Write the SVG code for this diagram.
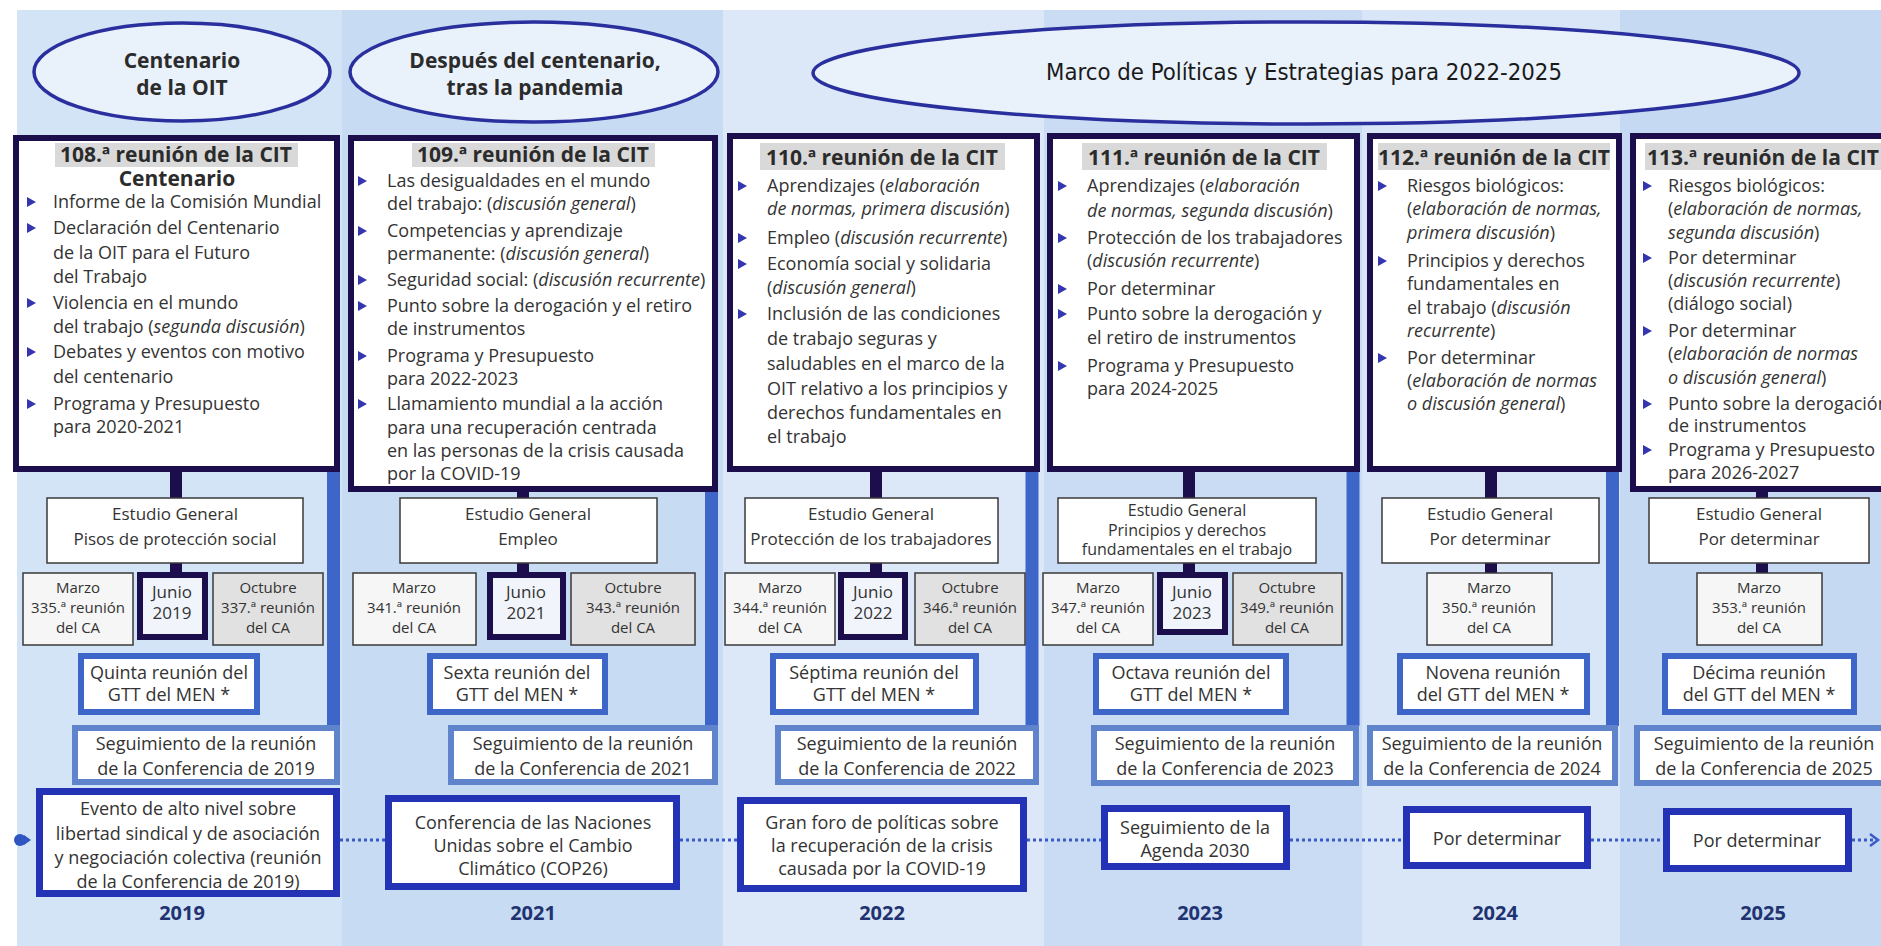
<svg xmlns="http://www.w3.org/2000/svg" xmlns:xlink="http://www.w3.org/1999/xlink" width="1881" height="946" viewBox="0 0 1881 946">
<style>
text{font-family:'Open Sans','Noto Sans','DejaVu Sans',sans-serif;fill:#333;font-size:18px}
.i{font-style:italic}
.c{text-anchor:middle}
.ttl{font-weight:700;font-size:21px;text-anchor:middle;fill:#2b2b2b}
.ell{font-weight:700;font-size:21px;text-anchor:middle;fill:#2b2b2b}
.sm{font-size:15px}
.md{font-size:17px}
.s16{font-size:16px}
.yr{font-weight:700;font-size:20px;fill:#1f3370;text-anchor:middle}
.cit{fill:#fff;stroke:#1c0e4c;stroke-width:6}
.hl{fill:#d9d9d9}
.thin{fill:#fff;stroke:#3a3a3a;stroke-width:1.5}
.mar{fill:#f6f6f6;stroke:#3a3a3a;stroke-width:1.5}
.oct{fill:#e1e1e1;stroke:#3a3a3a;stroke-width:1.5}
.jun{fill:#f1f5fb;stroke:#1c0e4c;stroke-width:6}
.gtt{fill:#fff;stroke:#3d66c8;stroke-width:6}
.seg{fill:#fff;stroke:#6084cc;stroke-width:6}
.ev{fill:#fff;stroke:#2433b5;stroke-width:7}
.elp{fill:#e9f1fb;stroke:#2a2f9e;stroke-width:3.5}
.vc{stroke:#1c0e4c;stroke-width:12}
.bar{stroke:#3d66c8;stroke-width:13}
.dot{stroke:#3a5bc7;stroke-width:3;stroke-dasharray:3 3;fill:none}
</style>
<defs>
<polygon id="bul" points="0,-5 9,0 0,5" fill="#3535b0"/>
</defs>
<rect width="1881" height="946" fill="#fff"/>
<g id="columns">
<rect x="17" y="10" width="325" height="936" fill="#d3e4f7"/>
<rect x="342" y="10" width="381" height="936" fill="#c7dbf3"/>
<rect x="723" y="10" width="321" height="936" fill="#dce8f8"/>
<rect x="1044" y="10" width="318" height="936" fill="#c9dcf4"/>
<rect x="1362" y="10" width="258" height="936" fill="#d8e6f7"/>
<rect x="1620" y="10" width="261" height="936" fill="#c5d9f2"/>
</g>
<g id="periods">
<g id="p-centenario">
<ellipse class="elp" cx="182" cy="72" rx="148" ry="49"/>
<text class="ell" x="182" y="68">Centenario</text>
<text class="ell" x="182" y="95">de la OIT</text>
</g>
<g id="p-despues">
<ellipse class="elp" cx="534" cy="72" rx="184" ry="50"/>
<text class="ell" x="535" y="68">Después del centenario,</text>
<text class="ell" x="535" y="95">tras la pandemia</text>
</g>
<g id="p-marco">
<ellipse class="elp" cx="1306" cy="73" rx="493" ry="51"/>
<text x="1304" y="80" class="c" style="font-family:'Liberation Sans Narrow','DejaVu Sans Condensed','Open Sans',sans-serif;font-size:23px;fill:#1a1a1a" textLength="516" lengthAdjust="spacingAndGlyphs">Marco de Políticas y Estrategias para 2022-2025</text>
</g>
</g>
<g id="connectors">
<line class="vc" x1="176" y1="470" x2="176" y2="500"/><line class="vc" x1="176" y1="561" x2="176" y2="575"/>
<line class="vc" x1="523" y1="490" x2="523" y2="500"/><line class="vc" x1="523" y1="561" x2="523" y2="575"/>
<line class="vc" x1="876" y1="470" x2="876" y2="500"/><line class="vc" x1="876" y1="561" x2="876" y2="575"/>
<line class="vc" x1="1189" y1="470" x2="1189" y2="500"/><line class="vc" x1="1189" y1="561" x2="1189" y2="575"/>
<line class="vc" x1="1491" y1="470" x2="1491" y2="500"/><line class="vc" x1="1491" y1="561" x2="1491" y2="575"/>
<line class="vc" x1="1762" y1="490" x2="1762" y2="500"/><line class="vc" x1="1762" y1="561" x2="1762" y2="575"/>
<line class="bar" x1="333.5" y1="472" x2="333.5" y2="726"/>
<line class="bar" x1="711.5" y1="492" x2="711.5" y2="726"/>
<line class="bar" x1="1032" y1="472" x2="1032" y2="726"/>
<line class="bar" x1="1353" y1="472" x2="1353" y2="726"/>
<line class="bar" x1="1612.5" y1="472" x2="1612.5" y2="726"/>
<circle cx="20" cy="840" r="6" fill="#2f55c2"/>
<polygon points="24,835 31,840 24,845" fill="#2f55c2"/>
<line class="dot" x1="340" y1="840" x2="385" y2="840"/>
<line class="dot" x1="680" y1="840" x2="737" y2="840"/>
<line class="dot" x1="1027" y1="840" x2="1101" y2="840"/>
<line class="dot" x1="1290" y1="840" x2="1403" y2="840"/>
<line class="dot" x1="1591" y1="840" x2="1663" y2="840"/>
<line class="dot" x1="1852" y1="840" x2="1876" y2="840"/>
<polyline points="1870,834 1878,840 1870,846" fill="none" stroke="#3a5bc7" stroke-width="2.5"/>
</g>
<g id="cit108">
<rect class="cit" x="16" y="138" width="321" height="331"/>
<rect class="hl" x="55" y="143" width="243" height="24"/>
<text class="ttl" x="176" y="162">108.ª reunión de la CIT</text>
<text class="ttl" x="177" y="186">Centenario</text>
<use href="#bul" x="27" y="202"/><text x="53" y="208">Informe de la Comisión Mundial</text>
<use href="#bul" x="27" y="228"/><text x="53" y="234">Declaración del Centenario</text>
<text x="53" y="259">de la OIT para el Futuro</text>
<text x="53" y="283">del Trabajo</text>
<use href="#bul" x="27" y="303"/><text x="53" y="309">Violencia en el mundo</text>
<text x="53" y="333">del trabajo (<tspan class="i">segunda discusión</tspan>)</text>
<use href="#bul" x="27" y="352"/><text x="53" y="358">Debates y eventos con motivo</text>
<text x="53" y="383">del centenario</text>
<use href="#bul" x="27" y="404"/><text x="53" y="410">Programa y Presupuesto</text>
<text x="53" y="433">para 2020-2021</text>
</g>
<g id="cit109">
<rect class="cit" x="351" y="138" width="364" height="351"/>
<rect class="hl" x="412" y="143" width="243" height="24"/>
<text class="ttl" x="533" y="162">109.ª reunión de la CIT</text>
<use href="#bul" x="358" y="181"/><text x="387" y="187">Las desigualdades en el mundo</text>
<text x="387" y="210">del trabajo: (<tspan class="i">discusión general</tspan>)</text>
<use href="#bul" x="358" y="231"/><text x="387" y="237">Competencias y aprendizaje</text>
<text x="387" y="260">permanente: (<tspan class="i">discusión general</tspan>)</text>
<use href="#bul" x="358" y="280"/><text x="387" y="286">Seguridad social: (<tspan class="i">discusión recurrente</tspan>)</text>
<use href="#bul" x="358" y="306"/><text x="387" y="312">Punto sobre la derogación y el retiro</text>
<text x="387" y="335">de instrumentos</text>
<use href="#bul" x="358" y="356"/><text x="387" y="362">Programa y Presupuesto</text>
<text x="387" y="385">para 2022-2023</text>
<use href="#bul" x="358" y="404"/><text x="387" y="410">Llamamiento mundial a la acción</text>
<text x="387" y="434">para una recuperación centrada</text>
<text x="387" y="457">en las personas de la crisis causada</text>
<text x="387" y="480">por la COVID-19</text>
</g>
<g id="cit110">
<rect class="cit" x="730" y="136" width="307" height="333"/>
<rect class="hl" x="760" y="143" width="245" height="27"/>
<text class="ttl" x="882" y="165">110.ª reunión de la CIT</text>
<use href="#bul" x="738" y="186"/><text x="767" y="192">Aprendizajes (<tspan class="i">elaboración</tspan></text>
<text x="767" y="215"><tspan class="i">de normas, primera discusión</tspan>)</text>
<use href="#bul" x="738" y="238"/><text x="767" y="244">Empleo (<tspan class="i">discusión recurrente</tspan>)</text>
<use href="#bul" x="738" y="264"/><text x="767" y="270">Economía social y solidaria</text>
<text x="767" y="294">(<tspan class="i">discusión general</tspan>)</text>
<use href="#bul" x="738" y="314"/><text x="767" y="320">Inclusión de las condiciones</text>
<text x="767" y="345">de trabajo seguras y</text>
<text x="767" y="370">saludables en el marco de la</text>
<text x="767" y="395">OIT relativo a los principios y</text>
<text x="767" y="419">derechos fundamentales en</text>
<text x="767" y="443">el trabajo</text>
</g>
<g id="cit111">
<rect class="cit" x="1050" y="136" width="307" height="333"/>
<rect class="hl" x="1082" y="143" width="245" height="27"/>
<text class="ttl" x="1204" y="165">111.ª reunión de la CIT</text>
<use href="#bul" x="1058" y="186"/><text x="1087" y="192">Aprendizajes (<tspan class="i">elaboración</tspan></text>
<text x="1087" y="217"><tspan class="i">de normas, segunda discusión</tspan>)</text>
<use href="#bul" x="1058" y="238"/><text x="1087" y="244">Protección de los trabajadores</text>
<text x="1087" y="267">(<tspan class="i">discusión recurrente</tspan>)</text>
<use href="#bul" x="1058" y="289"/><text x="1087" y="295">Por determinar</text>
<use href="#bul" x="1058" y="314"/><text x="1087" y="320">Punto sobre la derogación y</text>
<text x="1087" y="344">el retiro de instrumentos</text>
<use href="#bul" x="1058" y="366"/><text x="1087" y="372">Programa y Presupuesto</text>
<text x="1087" y="395">para 2024-2025</text>
</g>
<g id="cit112">
<rect class="cit" x="1370" y="136" width="249" height="333"/>
<rect class="hl" x="1378" y="143" width="232" height="27"/>
<text class="ttl" x="1494" y="165">112.ª reunión de la CIT</text>
<use href="#bul" x="1378" y="186"/><text x="1407" y="192">Riesgos biológicos:</text>
<text x="1407" y="215">(<tspan class="i">elaboración de normas,</tspan></text>
<text x="1407" y="239"><tspan class="i">primera discusión</tspan>)</text>
<use href="#bul" x="1378" y="261"/><text x="1407" y="267">Principios y derechos</text>
<text x="1407" y="290">fundamentales en</text>
<text x="1407" y="314">el trabajo (<tspan class="i">discusión</tspan></text>
<text x="1407" y="337"><tspan class="i">recurrente</tspan>)</text>
<use href="#bul" x="1378" y="358"/><text x="1407" y="364">Por determinar</text>
<text x="1407" y="387">(<tspan class="i">elaboración de normas</tspan></text>
<text x="1407" y="410"><tspan class="i">o discusión general</tspan>)</text>
</g>
<g id="cit113">
<rect class="cit" x="1633" y="136" width="260" height="353"/>
<rect class="hl" x="1645" y="143" width="240" height="27"/>
<text x="1647" y="165" style="font-weight:700;font-size:21px;fill:#2b2b2b">113.ª reunión de la CIT</text>
<use href="#bul" x="1643" y="186"/><text x="1668" y="192">Riesgos biológicos:</text>
<text x="1668" y="215">(<tspan class="i">elaboración de normas,</tspan></text>
<text x="1668" y="239"><tspan class="i">segunda discusión</tspan>)</text>
<use href="#bul" x="1643" y="258"/><text x="1668" y="264">Por determinar</text>
<text x="1668" y="287">(<tspan class="i">discusión recurrente</tspan>)</text>
<text x="1668" y="310">(diálogo social)</text>
<use href="#bul" x="1643" y="331"/><text x="1668" y="337">Por determinar</text>
<text x="1668" y="360">(<tspan class="i">elaboración de normas</tspan></text>
<text x="1668" y="384"><tspan class="i">o discusión general</tspan>)</text>
<use href="#bul" x="1643" y="404"/><text x="1668" y="410">Punto sobre la derogación</text>
<text x="1668" y="432">de instrumentos</text>
<use href="#bul" x="1643" y="450"/><text x="1668" y="456">Programa y Presupuesto</text>
<text x="1668" y="479">para 2026-2027</text>
</g>
<g id="estudio2019"><rect class="thin" x="47" y="498" width="256" height="65"/><text class="c md" x="175" y="520">Estudio General</text><text class="c md" x="175" y="545">Pisos de protección social</text></g>
<g id="estudio2021"><rect class="thin" x="400" y="498" width="257" height="65"/><text class="c md" x="528" y="520">Estudio General</text><text class="c md" x="528" y="545">Empleo</text></g>
<g id="estudio2022"><rect class="thin" x="745" y="498" width="253" height="65"/><text class="c md" x="871" y="520">Estudio General</text><text class="c md" x="871" y="545">Protección de los trabajadores</text></g>
<g id="estudio2023"><rect class="thin" x="1058" y="498" width="258" height="65"/><text class="c s16" x="1187" y="516">Estudio General</text><text class="c s16" x="1187" y="536">Principios y derechos</text><text class="c s16" x="1187" y="555">fundamentales en el trabajo</text></g>
<g id="estudio2024"><rect class="thin" x="1382" y="498" width="217" height="65"/><text class="c md" x="1490" y="520">Estudio General</text><text class="c md" x="1490" y="545">Por determinar</text></g>
<g id="estudio2025"><rect class="thin" x="1649" y="498" width="220" height="65"/><text class="c md" x="1759" y="520">Estudio General</text><text class="c md" x="1759" y="545">Por determinar</text></g>
<g id="marzo2019"><rect class="mar" x="23" y="573" width="110" height="72"/><text class="c sm" x="78" y="593">Marzo</text><text class="c sm" x="78" y="613">335.ª reunión</text><text class="c sm" x="78" y="633">del CA</text></g>
<g id="junio2019"><rect class="jun" x="140" y="575" width="65" height="62"/><text class="c md" x="172" y="598">Junio</text><text class="c md" x="172" y="619">2019</text></g>
<g id="octubre2019"><rect class="oct" x="213" y="573" width="110" height="72"/><text class="c sm" x="268" y="593">Octubre</text><text class="c sm" x="268" y="613">337.ª reunión</text><text class="c sm" x="268" y="633">del CA</text></g>
<g id="marzo2021"><rect class="mar" x="353" y="573" width="123" height="72"/><text class="c sm" x="414" y="593">Marzo</text><text class="c sm" x="414" y="613">341.ª reunión</text><text class="c sm" x="414" y="633">del CA</text></g>
<g id="junio2021"><rect class="jun" x="490" y="575" width="73" height="62"/><text class="c md" x="526" y="598">Junio</text><text class="c md" x="526" y="619">2021</text></g>
<g id="octubre2021"><rect class="oct" x="571" y="573" width="124" height="72"/><text class="c sm" x="633" y="593">Octubre</text><text class="c sm" x="633" y="613">343.ª reunión</text><text class="c sm" x="633" y="633">del CA</text></g>
<g id="marzo2022"><rect class="mar" x="725" y="573" width="110" height="72"/><text class="c sm" x="780" y="593">Marzo</text><text class="c sm" x="780" y="613">344.ª reunión</text><text class="c sm" x="780" y="633">del CA</text></g>
<g id="junio2022"><rect class="jun" x="841" y="575" width="64" height="62"/><text class="c md" x="873" y="598">Junio</text><text class="c md" x="873" y="619">2022</text></g>
<g id="octubre2022"><rect class="oct" x="915" y="573" width="110" height="72"/><text class="c sm" x="970" y="593">Octubre</text><text class="c sm" x="970" y="613">346.ª reunión</text><text class="c sm" x="970" y="633">del CA</text></g>
<g id="marzo2023"><rect class="mar" x="1043" y="573" width="110" height="72"/><text class="c sm" x="1098" y="593">Marzo</text><text class="c sm" x="1098" y="613">347.ª reunión</text><text class="c sm" x="1098" y="633">del CA</text></g>
<g id="junio2023"><rect class="jun" x="1160" y="575" width="65" height="57"/><text class="c md" x="1192" y="598">Junio</text><text class="c md" x="1192" y="619">2023</text></g>
<g id="octubre2023"><rect class="oct" x="1233" y="573" width="109" height="72"/><text class="c sm" x="1287" y="593">Octubre</text><text class="c sm" x="1287" y="613">349.ª reunión</text><text class="c sm" x="1287" y="633">del CA</text></g>
<g id="marzo2024"><rect class="mar" x="1427" y="573" width="125" height="72"/><text class="c sm" x="1489" y="593">Marzo</text><text class="c sm" x="1489" y="613">350.ª reunión</text><text class="c sm" x="1489" y="633">del CA</text></g>
<g id="marzo2025"><rect class="mar" x="1697" y="573" width="125" height="72"/><text class="c sm" x="1759" y="593">Marzo</text><text class="c sm" x="1759" y="613">353.ª reunión</text><text class="c sm" x="1759" y="633">del CA</text></g>
<g id="gtt2019"><rect class="gtt" x="81" y="656" width="176" height="56"/><text class="c" x="169" y="679">Quinta reunión del</text><text class="c" x="169" y="701">GTT del MEN *</text></g>
<g id="gtt2021"><rect class="gtt" x="430" y="656" width="175" height="56"/><text class="c" x="517" y="679">Sexta reunión del</text><text class="c" x="517" y="701">GTT del MEN *</text></g>
<g id="gtt2022"><rect class="gtt" x="773" y="656" width="203" height="56"/><text class="c" x="874" y="679">Séptima reunión del</text><text class="c" x="874" y="701">GTT del MEN *</text></g>
<g id="gtt2023"><rect class="gtt" x="1096" y="656" width="190" height="56"/><text class="c" x="1191" y="679">Octava reunión del</text><text class="c" x="1191" y="701">GTT del MEN *</text></g>
<g id="gtt2024"><rect class="gtt" x="1400" y="656" width="187" height="56"/><text class="c" x="1493" y="679">Novena reunión</text><text class="c" x="1493" y="701">del GTT del MEN *</text></g>
<g id="gtt2025"><rect class="gtt" x="1665" y="656" width="189" height="56"/><text class="c" x="1759" y="679">Décima reunión</text><text class="c" x="1759" y="701">del GTT del MEN *</text></g>
<g id="seg2019"><rect class="seg" x="75" y="728" width="262" height="54"/><text class="c" x="206" y="750">Seguimiento de la reunión</text><text class="c" x="206" y="775">de la Conferencia de 2019</text></g>
<g id="seg2021"><rect class="seg" x="451" y="728" width="264" height="54"/><text class="c" x="583" y="750">Seguimiento de la reunión</text><text class="c" x="583" y="775">de la Conferencia de 2021</text></g>
<g id="seg2022"><rect class="seg" x="778" y="728" width="258" height="54"/><text class="c" x="907" y="750">Seguimiento de la reunión</text><text class="c" x="907" y="775">de la Conferencia de 2022</text></g>
<g id="seg2023"><rect class="seg" x="1094" y="728" width="262" height="55"/><text class="c" x="1225" y="750">Seguimiento de la reunión</text><text class="c" x="1225" y="775">de la Conferencia de 2023</text></g>
<g id="seg2024"><rect class="seg" x="1370" y="728" width="245" height="55"/><text class="c" x="1492" y="750">Seguimiento de la reunión</text><text class="c" x="1492" y="775">de la Conferencia de 2024</text></g>
<g id="seg2025"><rect class="seg" x="1637" y="728" width="260" height="55"/><text class="c" x="1764" y="750">Seguimiento de la reunión</text><text class="c" x="1764" y="775">de la Conferencia de 2025</text></g>
<g id="ev2019"><rect class="ev" x="39.5" y="791.5" width="297" height="102"/><text class="c" x="188" y="815">Evento de alto nivel sobre</text><text class="c" x="188" y="840">libertad sindical y de asociación</text><text class="c" x="188" y="864">y negociación colectiva (reunión</text><text class="c" x="188" y="888">de la Conferencia de 2019)</text></g>
<g id="ev2021"><rect class="ev" x="388.5" y="798.5" width="288" height="88"/><text class="c" x="533" y="829">Conferencia de las Naciones</text><text class="c" x="533" y="852">Unidas sobre el Cambio</text><text class="c" x="533" y="875">Climático (COP26)</text></g>
<g id="ev2022"><rect class="ev" x="740.5" y="800.5" width="283" height="88"/><text class="c" x="882" y="829">Gran foro de políticas sobre</text><text class="c" x="882" y="852">la recuperación de la crisis</text><text class="c" x="882" y="875">causada por la COVID-19</text></g>
<g id="ev2023"><rect class="ev" x="1104.5" y="808.5" width="182" height="58"/><text class="c" x="1195" y="834">Seguimiento de la</text><text class="c" x="1195" y="857">Agenda 2030</text></g>
<g id="ev2024"><rect class="ev" x="1406.5" y="809.5" width="181" height="56"/><text class="c" x="1497" y="845">Por determinar</text></g>
<g id="ev2025"><rect class="ev" x="1666.5" y="811.5" width="182" height="57"/><text class="c" x="1757" y="847">Por determinar</text></g>
<g id="years">
<text class="yr" x="182" y="920">2019</text>
<text class="yr" x="533" y="920">2021</text>
<text class="yr" x="882" y="920">2022</text>
<text class="yr" x="1200" y="920">2023</text>
<text class="yr" x="1495" y="920">2024</text>
<text class="yr" x="1763" y="920">2025</text>
</g>
</svg>
